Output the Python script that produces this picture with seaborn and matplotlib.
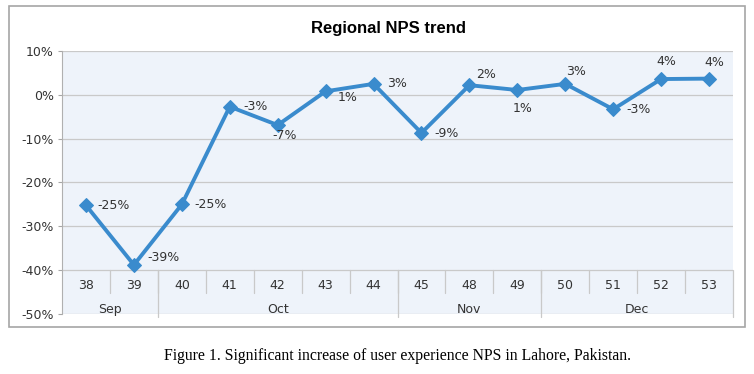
import matplotlib
matplotlib.use("Agg")
import matplotlib.pyplot as plt
from matplotlib.patches import Rectangle
import seaborn as sb
import pandas as pd

weeks = ['38', '39', '40', '41', '42', '43', '44', '45', '48', '49', '50', '51', '52', '53']
nps = [-25.2, -38.8, -25.0, -2.7, -6.9, 0.8, 2.5, -8.7, 2.2, 1.1, 2.5, -3.3, 3.6, 3.7]
nps_labels = ['-25%', '-39%', '-25%', '-3%', '-7%', '1%', '3%', '-9%', '2%', '1%', '3%', '-3%', '4%', '4%']
months = ['Sep', 'Oct', 'Nov', 'Dec']
month_weeks = [2, 5, 3, 4]
y_ticks = [10, 0, -10, -20, -30, -40, -50]

# label placement (offset in pixels, horizontal alignment)
label_pos = [((11, 0), 'left'), ((13, 7), 'left'), ((13, 0), 'left'), ((14, 0), 'left'),
             ((7, -10), 'center'), ((12, -6), 'left'), ((14, 0), 'left'), ((13, -1), 'left'),
             ((7, 11), 'left'), ((5, -18), 'center'), ((11, 12), 'center'), ((13, 0), 'left'),
             ((5, 18), 'center'), ((5, 16), 'center')]

df = pd.DataFrame({'pos': range(len(weeks)), 'nps': nps})

sb.set_style('white')
plt.rcParams['font.family'] = ['DejaVu Sans']

fig = plt.figure(figsize=(7.54, 3.74), dpi=100)
fig.patches.append(Rectangle((9 / 754, 1 - 327 / 374), 736 / 754, 321 / 374, transform=fig.transFigure,
                             facecolor='white', edgecolor='#A6A6A6', linewidth=1.2, zorder=-1))
ax = fig.add_axes([62 / 754, 1 - 314 / 374, 671 / 754, 263 / 374])
ax.set_facecolor('#EEF3FA')

line_color = '#3A8BCD'
sb.lineplot(data=df, x='pos', y='nps', ax=ax, color=line_color, linewidth=2.8,
            marker='D', markersize=7, markeredgecolor=line_color, zorder=5)

for i, (v, txt) in enumerate(zip(nps, nps_labels)):
    off, ha = label_pos[i]
    ax.annotate(txt, (i, v), xytext=off, textcoords='offset pixels', ha=ha, va='center',
                fontsize=9, color='#333333', zorder=6)

n = len(weeks)
ax.set_xlim(-0.5, n - 0.5)
ax.set_ylim(-50, 10)
ax.set_yticks(y_ticks)
ax.set_yticklabels([f'{t}%' for t in y_ticks], fontsize=9, color='#333333')
ax.set_xticks([])
ax.set_xlabel('')
ax.set_ylabel('')
for t in y_ticks:
    ax.axhline(t, color='#C9C9C9', linewidth=0.9, zorder=1)
ax.tick_params(axis='y', length=3, width=0.8, color='#A6A6A6', pad=3, left=True)

for s in ['top', 'right', 'bottom']:
    ax.spines[s].set_visible(False)
ax.spines['left'].set_color('#B0B0B0')

# category axis drawn inside the plot area
for i, w in enumerate(weeks):
    ax.text(i, -43.6, w, ha='center', va='center', fontsize=9, color='#333333')
for b in range(1, n):
    ax.plot([b - 0.5, b - 0.5], [-40, -45.2], color='#C9C9C9', linewidth=0.9, zorder=1)
start = 0
for m, cnt in zip(months, month_weeks):
    ax.text(start + cnt / 2 - 0.5, -48.9, m, ha='center', va='center', fontsize=9, color='#333333')
    end = start + cnt
    ax.plot([end - 0.5, end - 0.5], [-40, -50.6], color='#C9C9C9', linewidth=0.9, zorder=1, clip_on=False)
    start = end

fig.text(389 / 754, 1 - 29 / 374, 'Regional NPS trend', ha='center', va='center',
         fontsize=12, fontweight='bold', family='Liberation Sans', color='black')
fig.text(398 / 754, 1 - 356 / 374, 'Figure 1. Significant increase of user experience NPS in Lahore, Pakistan.',
         ha='center', va='center', fontsize=11.3, family='Liberation Serif', color='black')

fig.savefig('out.png', dpi=100)
